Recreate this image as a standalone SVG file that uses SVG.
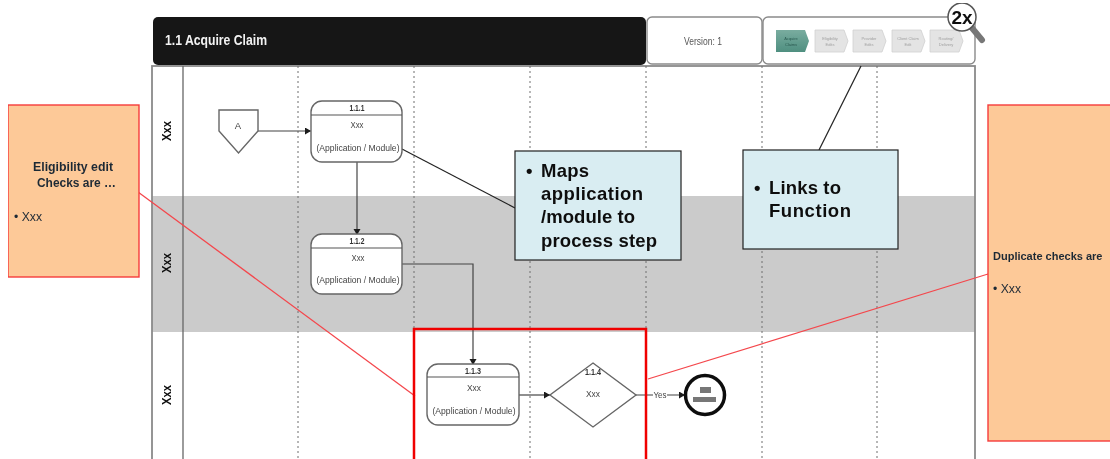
<svg xmlns="http://www.w3.org/2000/svg" width="1110" height="459" viewBox="0 0 1110 459">
<defs>
<marker id="arr" markerUnits="userSpaceOnUse" markerWidth="7" markerHeight="8" refX="6" refY="3.5" orient="auto"><path d="M0,0L6,3.5L0,7z" fill="#1a1a1a"/></marker>
<linearGradient id="teal" x1="0" y1="0" x2="0" y2="1"><stop offset="0" stop-color="#79ac9f"/><stop offset="1" stop-color="#4f8f80"/></linearGradient>
<filter id="soft" x="0" y="0" width="100%" height="100%"><feGaussianBlur stdDeviation="0.35"/></filter>
</defs>
<style>
text{font-family:"Liberation Sans",Arial,sans-serif;fill:#333}
.sm{font-size:9.5px;text-anchor:middle;fill:#444}
.num{font-size:9px;font-weight:bold;text-anchor:middle;fill:#333}
.lane{font-size:13px;font-weight:bold;text-anchor:middle;fill:#111}
.box{fill:#fff;stroke:#666;stroke-width:1.4}
.dot{stroke:#6e6e6e;stroke-width:1;stroke-dasharray:2 3;fill:none}
.fr{stroke:#8a8a8a;stroke-width:1.8;fill:none}
.conn{stroke:#444;stroke-width:1.2;fill:none}
.red{stroke:#f4474c;stroke-width:1.3;fill:none}
.org{fill:#fdc998;stroke:#f53b3b;stroke-width:1.4}
.blue{fill:#d9edf2;stroke:#222;stroke-width:1.2}
.callout{font-size:18.5px;font-weight:bold;fill:#111}
.note{font-size:12px;fill:#1f2a36}
.noteb{font-size:12px;font-weight:bold;fill:#1f2a36}
.step{fill:#e4e4e4;stroke:#d0d0d0;stroke-width:.8}
.st{font-size:4px;text-anchor:middle;fill:#a0a0a0}
</style>
<g filter="url(#soft)">
<g id="lanes">
<rect x="152" y="196" width="823" height="136" fill="#cbcbcb"/>
<rect x="152" y="66" width="823" height="404" class="fr"/>
<line x1="183" y1="66" x2="183" y2="459" stroke="#666" stroke-width="1.3"/>
<line x1="298" y1="66" x2="298" y2="459" class="dot"/>
<line x1="414" y1="66" x2="414" y2="459" class="dot"/>
<line x1="530" y1="66" x2="530" y2="459" class="dot"/>
<line x1="646" y1="66" x2="646" y2="459" class="dot"/>
<line x1="762" y1="66" x2="762" y2="459" class="dot"/>
<line x1="877" y1="66" x2="877" y2="459" class="dot"/>
<text class="lane" transform="translate(171,131) rotate(-90)" textLength="20" lengthAdjust="spacingAndGlyphs">Xxx</text>
<text class="lane" transform="translate(171,263) rotate(-90)" textLength="20" lengthAdjust="spacingAndGlyphs">Xxx</text>
<text class="lane" transform="translate(171,395) rotate(-90)" textLength="20" lengthAdjust="spacingAndGlyphs">Xxx</text>
</g>
<g id="header">
<rect x="153" y="17" width="493" height="48" rx="5" fill="#161616"/>
<text x="165" y="45" font-size="14.500" font-weight="bold" style="fill:#f2f2f2" textLength="102" lengthAdjust="spacingAndGlyphs">1.1 Acquire Claim</text>
<rect x="647" y="17" width="115" height="47" rx="5" fill="#fff" stroke="#8a8a8a" stroke-width="1.4"/>
<text x="703" y="45" font-size="11" text-anchor="middle" style="fill:#555" textLength="38" lengthAdjust="spacingAndGlyphs">Version: 1</text>
<rect x="763" y="17" width="212" height="47" rx="5" fill="#fff" stroke="#8a8a8a" stroke-width="1.4"/>
<path d="M776,30H805L809,41L805,52H776z" fill="url(#teal)"/>
<text class="st" x="791" y="40" style="fill:#2a5a50">Acquire</text><text class="st" x="791" y="46" style="fill:#2a5a50">Claims</text>
<path class="step" d="M815,30H844L848,41L844,52H815z"/>
<text class="st" x="830" y="40">Eligibility</text><text class="st" x="830" y="46">Edits</text>
<path class="step" d="M853,30H882L886,41L882,52H853z"/>
<text class="st" x="869" y="40">Provider</text><text class="st" x="869" y="46">Edits</text>
<path class="step" d="M892,30H921L925,41L921,52H892z"/>
<text class="st" x="908" y="40">Client Claim</text><text class="st" x="908" y="46">Edit</text>
<path class="step" d="M930,30H959L963,41L959,52H930z"/>
<text class="st" x="946" y="40">Routing/</text><text class="st" x="946" y="46">Delivery</text>
</g>
<g id="zoom2x">
<line x1="972" y1="28" x2="982" y2="40" stroke="#777" stroke-width="6" stroke-linecap="round"/>
<circle cx="962" cy="17" r="14" fill="#fff" stroke="#555" stroke-width="1.5"/>
<text x="962" y="24" font-size="19" font-weight="bold" text-anchor="middle" style="fill:#111">2x</text>
</g>
<g id="connectors">
<path class="conn" d="M258,131H311" marker-end="url(#arr)"/>
<path class="conn" d="M357,162V235" marker-end="url(#arr)"/>
<path class="conn" d="M402,264H473V365" marker-end="url(#arr)"/>
<path class="conn" d="M519,395H550" marker-end="url(#arr)"/>
<path class="conn" d="M636,395H653M667,395H685" marker-end="url(#arr)"/>
<line x1="402" y1="149" x2="515" y2="208" stroke="#222" stroke-width="1.2"/>
<line x1="861" y1="66" x2="819" y2="150" stroke="#222" stroke-width="1.2"/>
<line x1="138" y1="192" x2="415" y2="396" class="red"/>
<line x1="648" y1="379" x2="988" y2="274" class="red"/>
</g>
<g id="n-a">
<path class="box" d="M219,110H258V131L238.500,153L219,131z"/>
<text class="sm" x="238" y="129">A</text>
</g>
<g id="n-111">
<rect class="box" x="311" y="101" width="91" height="61" rx="11"/>
<line x1="311" y1="115" x2="402" y2="115" stroke="#555" stroke-width="1.1"/>
<text class="num" x="357" y="111" textLength="15" lengthAdjust="spacingAndGlyphs">1.1.1</text>
<text class="sm" x="357" y="128" textLength="13" lengthAdjust="spacingAndGlyphs">Xxx</text>
<text class="sm" x="358" y="151" textLength="83" lengthAdjust="spacingAndGlyphs">(Application / Module)</text>
</g>
<g id="n-112">
<rect class="box" x="311" y="234" width="91" height="60" rx="11"/>
<line x1="311" y1="248" x2="402" y2="248" stroke="#555" stroke-width="1.1"/>
<text class="num" x="357" y="244" textLength="15" lengthAdjust="spacingAndGlyphs">1.1.2</text>
<text class="sm" x="358" y="261" textLength="13" lengthAdjust="spacingAndGlyphs">Xxx</text>
<text class="sm" x="358" y="283" textLength="83" lengthAdjust="spacingAndGlyphs">(Application / Module)</text>
</g>
<g id="n-113">
<rect class="box" x="427" y="364" width="92" height="61" rx="11"/>
<line x1="427" y1="377" x2="519" y2="377" stroke="#555" stroke-width="1.1"/>
<text class="num" x="473" y="374" textLength="16" lengthAdjust="spacingAndGlyphs">1.1.3</text>
<text class="sm" x="474" y="391" textLength="14" lengthAdjust="spacingAndGlyphs">Xxx</text>
<text class="sm" x="474" y="414" textLength="83" lengthAdjust="spacingAndGlyphs">(Application / Module)</text>
</g>
<g id="n-114">
<path class="box" d="M593,363L636,395L593,427L550,395z"/>
<text class="num" x="593" y="375" textLength="16" lengthAdjust="spacingAndGlyphs">1.1.4</text>
<text class="sm" x="593" y="397" textLength="14" lengthAdjust="spacingAndGlyphs">Xxx</text>
</g>
<text class="sm" x="660" y="398" textLength="13" lengthAdjust="spacingAndGlyphs">Yes</text>
<g id="n-end">
<circle cx="705" cy="395" r="19.500" fill="#fff" stroke="#111" stroke-width="3.5"/>
<rect x="700" y="387" width="11" height="6" fill="#777"/>
<rect x="693" y="397" width="23" height="5" fill="#777"/>
</g>
<g id="highlight"><rect x="414" y="329" width="232" height="140" fill="none" stroke="#f00000" stroke-width="2.500"/></g>
<g id="callout-app">
<rect class="blue" x="515" y="151" width="166" height="109"/>
<text class="callout" x="526" y="177">•</text>
<text class="callout" x="541" y="177" textLength="48">Maps</text>
<text class="callout" x="541" y="200" textLength="102">application</text>
<text class="callout" x="541" y="223" textLength="94">/module to</text>
<text class="callout" x="541" y="247" textLength="116">process step</text>
</g>
<g id="callout-func">
<rect class="blue" x="743" y="150" width="155" height="99"/>
<text class="callout" x="754" y="194">•</text>
<text class="callout" x="769" y="194" textLength="72">Links to</text>
<text class="callout" x="769" y="217" textLength="82">Function</text>
</g>
<g id="note-left">
<rect class="org" x="8" y="105" width="131" height="172"/>
<text class="noteb" x="33" y="171" textLength="80" lengthAdjust="spacingAndGlyphs">Eligibility edit</text>
<text class="noteb" x="37" y="187" textLength="79" lengthAdjust="spacingAndGlyphs">Checks are …</text>
<text class="note" x="14" y="221" textLength="28" lengthAdjust="spacingAndGlyphs">• Xxx</text>
</g>
<g id="note-right">
<rect class="org" x="988" y="105" width="140" height="336"/>
<text class="noteb" x="993" y="260" style="font-size:11px">Duplicate checks are</text>
<text class="note" x="993" y="293" textLength="28" lengthAdjust="spacingAndGlyphs">• Xxx</text>
</g>
</g>
</svg>
